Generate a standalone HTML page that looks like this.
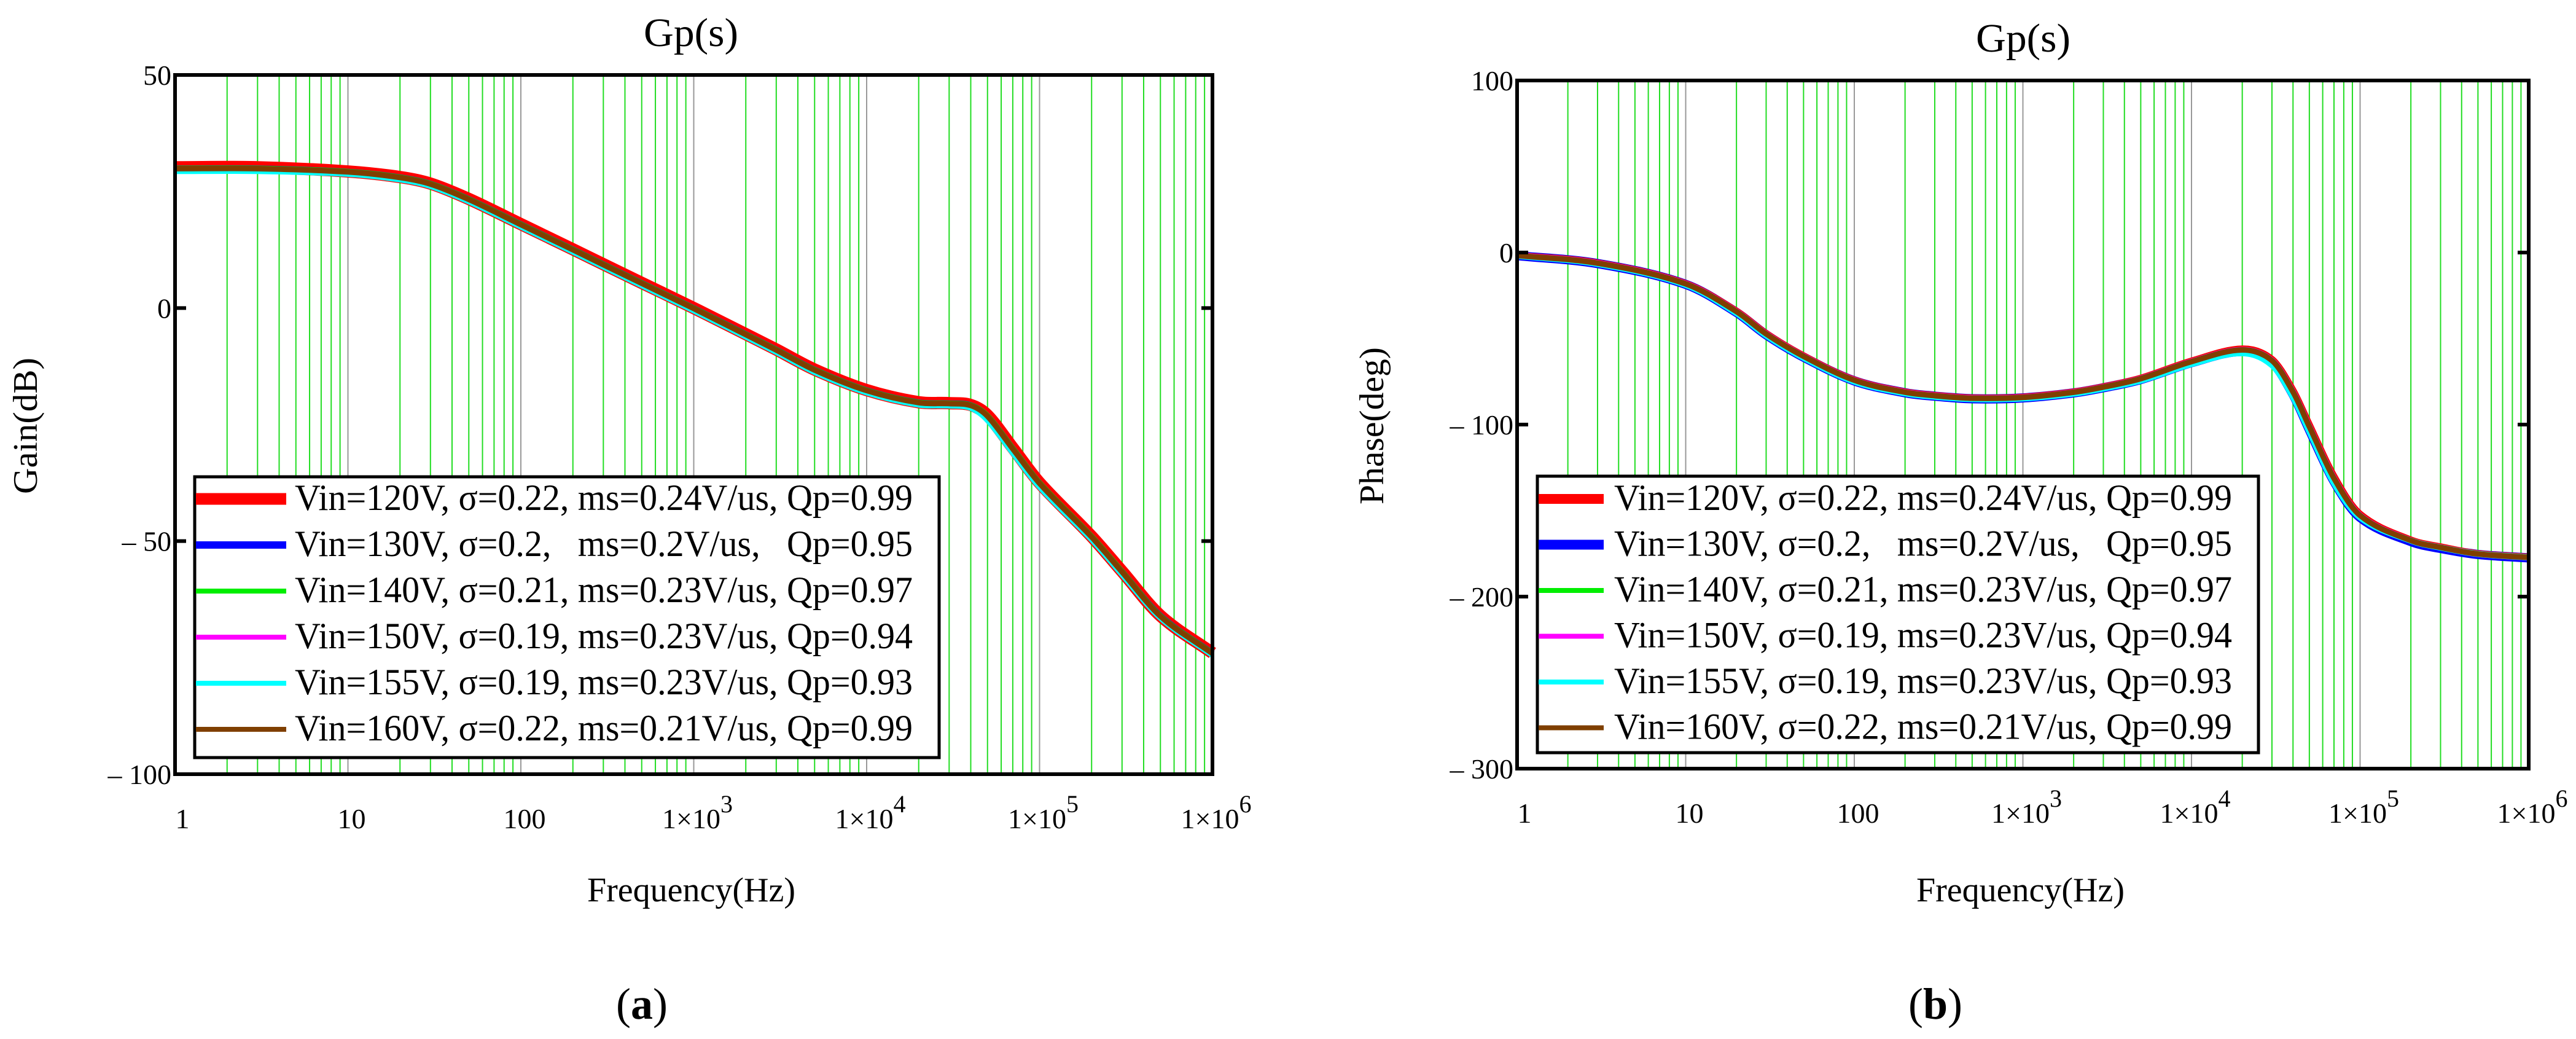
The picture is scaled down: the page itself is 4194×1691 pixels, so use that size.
<!DOCTYPE html>
<html><head><meta charset="utf-8"><style>
html,body{margin:0;padding:0;background:#fff;}
svg{display:block;}
text{font-family:"Liberation Serif",serif;fill:#000;}
</style></head><body>
<svg id="fig" width="4194" height="1691" viewBox="0 0 4194 1691" xmlns="http://www.w3.org/2000/svg">
<g id="panelA"></g>
<g id="panelB"></g>
</svg>
<script>
// ---- data ----
const freqs = [1,3,10,20,30,50,100,200,300,500,1000,2000,3000,5000,1e4,2e4,3e4,4e4,5e4,7e4,1e5,2e5,3e5,5e5,1e6];
const gain120 = [30.2,30.2,29.3,28.1,26.7,23.4,18,12.6,9.4,5.4,0,-5.6,-8.9,-13.2,-17.6,-20.2,-20.4,-20.8,-23,-30,-37.5,-49,-56.5,-66,-74];
const gain130 = [29.8,29.8,29.1,27.9,26.5,23.2,17.8,12.4,9.2,5.2,-0.2,-5.8,-9.1,-13.4,-17.8,-20.4,-20.6,-21,-23.4,-30.4,-37.8,-49.3,-56.8,-66.2,-74.2];
const gain140 = [29.9,29.9,29.2,28,26.6,23.3,17.9,12.5,9.3,5.3,-0.1,-5.7,-9,-13.3,-17.7,-20.3,-20.5,-20.9,-23.2,-30.2,-37.6,-49.1,-56.6,-66.1,-74.1];
const gain150 = [29.7,29.7,29,27.8,26.4,23.1,17.7,12.3,9.1,5.1,-0.3,-5.9,-9.2,-13.5,-17.9,-20.5,-20.7,-21.2,-23.6,-30.6,-38,-49.4,-56.9,-66.3,-74.3];
const gain155 = [29.4,29.4,28.8,27.6,26.2,22.9,17.5,12.1,8.9,4.9,-0.5,-6.1,-9.4,-13.7,-18.1,-20.7,-20.9,-21.4,-24,-31,-38.3,-49.6,-57.1,-66.4,-74.4];
const gain160 = [29.9,29.9,29.2,28,26.6,23.3,17.9,12.5,9.3,5.3,-0.1,-5.7,-9,-13.3,-17.7,-20.3,-20.5,-20.9,-23.2,-30.2,-37.6,-49.1,-56.6,-66.1,-74.1];
const phase120 = [-1.6,-6,-18,-34,-47,-60,-74,-81,-83,-84.5,-84,-81,-78,-73,-63,-56,-62,-80,-100,-130,-152,-167,-171,-175,-177];
const phase130 = [-1.8,-6.4,-18.5,-34.8,-47.8,-60.8,-74.6,-81.5,-83.5,-85,-84.5,-81.6,-78.6,-73.8,-64,-57.5,-64,-82.5,-103,-133,-154,-168,-172,-175.5,-177.5];
const phase140 = [-1.7,-6.2,-18.2,-34.3,-47.3,-60.3,-74.2,-81.2,-83.2,-84.7,-84.2,-81.2,-78.2,-73.3,-63.4,-56.6,-62.8,-81,-101.2,-131.2,-152.8,-167.4,-171.4,-175.2,-177.2];
const phase150 = [-1.7,-6.2,-18.2,-34.3,-47.3,-60.3,-74.2,-81.2,-83.2,-84.7,-84.2,-81.2,-78.2,-73.3,-63.4,-56.6,-62.8,-81,-101.2,-131.2,-152.8,-167.4,-171.4,-175.2,-177.2];
const phase155 = [-1.9,-6.6,-18.8,-35.2,-48.2,-61.2,-75,-81.8,-83.8,-85.2,-84.8,-82,-79,-74.4,-64.8,-58.5,-65.5,-84,-104,-134,-154,-167.5,-171.5,-175.2,-177.2];
const phase160 = [-1.7,-6.2,-18.2,-34.3,-47.3,-60.3,-74.2,-81.2,-83.2,-84.7,-84.2,-81.2,-78.2,-73.3,-63.4,-56.6,-62.8,-81,-101.2,-131.2,-152.8,-167.4,-171.4,-175.2,-177.2];
const legendLabels = ["Vin=120V, \u03c3=0.22, ms=0.24V/us, Qp=0.99","Vin=130V, \u03c3=0.2,   ms=0.2V/us,   Qp=0.95","Vin=140V, \u03c3=0.21, ms=0.23V/us, Qp=0.97","Vin=150V, \u03c3=0.19, ms=0.23V/us, Qp=0.94","Vin=155V, \u03c3=0.19, ms=0.23V/us, Qp=0.93","Vin=160V, \u03c3=0.22, ms=0.21V/us, Qp=0.99"];
const seriesColors = ["#ff0000","#0000ff","#00ee00","#ff00ff","#00ffff","#7f3f00"];
const gainTicks = [50,0,-50,-100];
const gainTickLabels = ["50","0","\u2013 50","\u2013 100"];
const phaseTicks = [100,0,-100,-200,-300];
const phaseTickLabels = ["100","0","\u2013 100","\u2013 200","\u2013 300"];
const decadeExps = [0,1,2,3,4,5,6];

const NS="http://www.w3.org/2000/svg";
function mk(tag,parent,attrs){const e=document.createElementNS(NS,tag);for(const k in attrs)e.setAttribute(k,attrs[k]);parent.appendChild(e);return e;}

function drawPanel(g,cfg){
  const L=cfg.L,T=cfg.T,R=cfg.R,B=cfg.B;
  const xs=f=>L+(R-L)*Math.log10(f)/6;
  const ys=v=>T+(B-T)*(cfg.ymax-v)/(cfg.ymax-cfg.ymin);
  for(let d=0;d<6;d++){for(let m=2;m<=10;m++){const f=Math.pow(10,d)*m;const x=xs(f);
    const ln=mk('line',g,{x1:x,y1:T,x2:x,y2:B,stroke:m===10?'#999':'#22dd22','stroke-width':2});
    
    }}
  const series=cfg.series;
  cfg.order.forEach(i=>{
    const vals=series[i];const pts=freqs.map((f,k)=>[xs(f),ys(vals[k])]);
    let d='M'+pts[0][0]+','+pts[0][1];
    for(let k=0;k<pts.length-1;k++){const p0=pts[Math.max(0,k-1)],p1=pts[k],p2=pts[k+1],p3=pts[Math.min(pts.length-1,k+2)];
      const h=p2[0]-p1[0];
      const m1=(p2[1]-p0[1])/((p2[0]-p0[0])||1), m2=(p3[1]-p1[1])/((p3[0]-p1[0])||1);
      const c1=[p1[0]+h/3,p1[1]+m1*h/3],c2=[p2[0]-h/3,p2[1]-m2*h/3];
      d+=' C'+c1[0]+','+c1[1]+' '+c2[0]+','+c2[1]+' '+p2[0]+','+p2[1];}
    const p=mk('path',g,{d:d,fill:'none',stroke:seriesColors[i],'stroke-width':cfg.widths[i],'stroke-linejoin':'round'});
    
    
  });
  const fr=mk('rect',g,{x:L,y:T,width:R-L,height:B-T,fill:'none',stroke:'#000','stroke-width':6});
  
  
  cfg.yticks.forEach((v,i)=>{const y=ys(v);
    if(v!==cfg.ymax&&v!==cfg.ymin){
      const t1=mk('line',g,{x1:L,y1:y,x2:L+18,y2:y,stroke:'#000','stroke-width':6});
      
      
      const t2=mk('line',g,{x1:R-18,y1:y,x2:R,y2:y,stroke:'#000','stroke-width':6});
      
      }
    const tx=mk('text',g,{x:L-6,y:y+16,'font-size':46,'text-anchor':'end'});tx.textContent=cfg.ylabels[i];
    
    });
  decadeExps.forEach(e=>{const x=xs(Math.pow(10,e));
    const tx=mk('text',g,{x:e===0?x+12:x+6,y:B+88,'font-size':46,'text-anchor':'middle'});
    if(e<3){tx.textContent=String(Math.pow(10,e));}
    else{tx.textContent='1\u00d710';const s=mk('tspan',tx,{dy:-26,'font-size':40});s.textContent=String(e);}
    
    });
  const tt=mk('text',g,{x:cfg.titleX,y:cfg.titleY,'font-size':66,'text-anchor':'middle',textLength:154,lengthAdjust:'spacingAndGlyphs'});tt.textContent='Gp(s)';
  
  
  const yt=mk('text',g,{x:0,y:0,'font-size':56,'text-anchor':'middle',textLength:cfg.ytitleLen,lengthAdjust:'spacingAndGlyphs',transform:'translate('+cfg.ytitleX+',693) rotate(-90)'});yt.textContent=cfg.ytitle;
  
  
  const xt=mk('text',g,{x:(L+R)/2-4,y:1467,'font-size':56,'text-anchor':'middle',textLength:339,lengthAdjust:'spacingAndGlyphs'});xt.textContent='Frequency(Hz)';
  
  
  const cap=mk('text',g,{x:cfg.capX,y:1658,'font-size':72,'text-anchor':'middle'});cap.textContent='(';
  const cb=mk('tspan',cap,{'font-weight':'bold'});cb.textContent=cfg.cap;const ce=mk('tspan',cap,{});ce.textContent=')';
  
  
  const lg=mk('g',g,{});
  
  
  const lb=mk('rect',lg,{x:cfg.lgL,y:cfg.lgT,width:cfg.lgR-cfg.lgL,height:cfg.lgB-cfg.lgT,fill:'#fff',stroke:'#000','stroke-width':5});
  
  
  legendLabels.forEach((lab,i)=>{const y=812+i*cfg.lgStep;
    const sw=mk('line',lg,{x1:cfg.lgL+2,y1:y,x2:cfg.lgL+cfg.swLen,y2:y,stroke:seriesColors[i],'stroke-width':cfg.lgW[i]});
    
    
    const t=mk('text',lg,{x:cfg.txtX,y:y+18,'font-size':60,textLength:cfg.txtLen,lengthAdjust:'spacingAndGlyphs'});
    t.setAttribute('style','white-space:pre');t.textContent=lab;
    
    });
}
drawPanel(document.getElementById('panelA'),{L:285,T:122,R:1974,B:1260,ymax:50,ymin:-100,
  series:[gain120,gain130,gain140,gain150,gain155,gain160],order:[0,1,2,3,4,5],widths:[20,12,10,10,10,9],
  yticks:gainTicks,ylabels:gainTickLabels,titleX:1125,titleY:75,ytitle:'Gain(dB)',ytitleX:60,ytitleLen:222,cap:'a',capX:1045,
  lgL:317,lgT:776,lgR:1529,lgB:1233,lgStep:75,swLen:149,lgW:[19,12,8,8,8,8],txtX:480,txtLen:1006});
drawPanel(document.getElementById('panelB'),{L:2470,T:131,R:4117,B:1251,ymax:100,ymin:-300,
  series:[phase120,phase130,phase140,phase150,phase155,phase160],order:[1,0,2,3,4,5],widths:[11,15,10,10,10,9],
  yticks:phaseTicks,ylabels:phaseTickLabels,titleX:3294,titleY:84,ytitle:'Phase(deg)',ytitleX:2252,ytitleLen:256,cap:'b',capX:3151,
  lgL:2503,lgT:775,lgR:3677,lgB:1225,lgStep:74.5,swLen:108,lgW:[16,16,8,8,8,8],txtX:2628,txtLen:1006});
</script>
</body></html>
